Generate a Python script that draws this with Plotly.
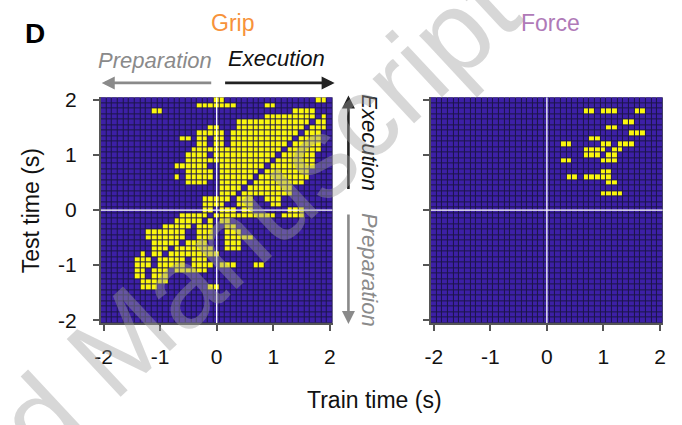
import numpy as np
import plotly.graph_objects as go

# ---------------- data ----------------
# time bins (s) for train (x) and test (y) axes
TIMES = [round(-2.0 + 0.1 * k, 1) for k in range(41)]
TEST_TIMES_TOP_DOWN = [round(2.0 - 0.1 * k, 1) for k in range(41)]

# significant cells per test-time row (top row = +2.0 s), as inclusive ranges of train-time bin index
GRIP_ROWS = [
    [(20, 21), (38, 39)],
    [(17, 23), (29, 30)],
    [(9, 10), (34, 37)],
    [(29, 37), (39, 39)],
    [(24, 36), (38, 39)],
    [(19, 20), (24, 35), (37, 39)],
    [(17, 21), (23, 34), (36, 38)],
    [(14, 15), (17, 18), (20, 21), (23, 33), (35, 38)],
    [(17, 18), (20, 21), (23, 32), (34, 38)],
    [(16, 31), (33, 38)],
    [(15, 18), (20, 30), (32, 37)],
    [(15, 29), (31, 37)],
    [(13, 18), (21, 28), (30, 37)],
    [(15, 19), (21, 27), (29, 36)],
    [(13, 13), (15, 19), (21, 26), (28, 36)],
    [(15, 18), (21, 25), (27, 35)],
    [(21, 24), (26, 33)],
    [(21, 23), (25, 33)],
    [(18, 22), (24, 26), (29, 31)],
    [(18, 21), (24, 26), (30, 31)],
    [(18, 19), (21, 23), (25, 26), (33, 35)],
    [(14, 18), (20, 30), (32, 35)],
    [(13, 17), (19, 19), (21, 22)],
    [(11, 15), (17, 19), (22, 23)],
    [(8, 14), (17, 19), (22, 24)],
    [(8, 14), (17, 19), (22, 26)],
    [(9, 13), (15, 18), (22, 24)],
    [(9, 11), (13, 19), (22, 24)],
    [(7, 7), (9, 10), (12, 20)],
    [(6, 8), (10, 14), (16, 18)],
    [(6, 8), (10, 14), (16, 19), (21, 23), (27, 28)],
    [(6, 7), (9, 11), (13, 18)],
    [(6, 7), (9, 11)],
    [(7, 11)],
    [(7, 9), (19, 20)],
    [], [], [], [], [], [],
]

FORCE_ROWS = [
    [], [],
    [(27, 28), (30, 32), (36, 37)],
    [],
    [(34, 35)],
    [(31, 32)],
    [(35, 37)],
    [(28, 29)],
    [(23, 24), (30, 31), (33, 35)],
    [(27, 30), (32, 33)],
    [(27, 29), (31, 32)],
    [(23, 24), (30, 32)],
    [],
    [(30, 31)],
    [(24, 25), (27, 31)],
    [(31, 32)],
    [],
    [(30, 33)],
] + [[] for _ in range(23)]

TICK_VALUES = [-2, -1, 0, 1, 2]
TICK_LABELS = ["-2", "-1", "0", "1", "2"]


def rows_to_matrix(rows):
    z = []
    for ranges in rows:
        r = [0] * len(TIMES)
        for a, b in ranges:
            for k in range(a, b + 1):
                r[k] = 1
        z.append(r)
    return z


# ---------------- style ----------------
W, H = 682, 425
BLUE = "#3d20a6"
YELLOW = "#fbf70f"
GRIDC = "#1c1548"
FONT = "Liberation Sans, Arial, sans-serif"


def px(x):
    return x / W


def py(y):
    return 1 - y / H


cs = [[0, BLUE], [0.5, BLUE], [0.5, YELLOW], [1, YELLOW]]

fig = go.Figure()
for name, rows, xa, ya in [("Grip", GRIP_ROWS, "x", "y"), ("Force", FORCE_ROWS, "x2", "y2")]:
    fig.add_trace(go.Heatmap(
        z=rows_to_matrix(rows), x=TIMES, y=TEST_TIMES_TOP_DOWN,
        colorscale=cs, zmin=0, zmax=1, showscale=False,
        xgap=1, ygap=1, xaxis=xa, yaxis=ya, hoverinfo="skip",
    ))

axis_common = dict(
    range=[-2.05, 2.05], tickvals=TICK_VALUES, ticktext=TICK_LABELS,
    ticks="outside", ticklen=6, tickwidth=1.5, tickcolor="#555",
    showgrid=False, zeroline=False, showline=True, linecolor="#555", linewidth=1.5,
    tickfont=dict(size=21, color="#111", family=FONT), fixedrange=True,
)

top, bottom = 92, 327
fig.update_layout(
    width=W, height=H, margin=dict(l=0, r=0, t=0, b=0),
    paper_bgcolor="white", plot_bgcolor=GRIDC,
    font=dict(family=FONT),
    showlegend=False,
    xaxis=dict(domain=[px(96), px(331)], anchor="y", ticklabelstandoff=8, **axis_common),
    yaxis=dict(domain=[py(bottom), py(top)], anchor="x", ticklabelstandoff=12, **axis_common),
    xaxis2=dict(domain=[px(430.6), px(665.6)], anchor="y2", ticklabelstandoff=8, **axis_common),
    yaxis2=dict(domain=[py(bottom), py(top)], anchor="x2", showticklabels=False,
                **{k: v for k, v in axis_common.items() if k != "tickfont"}),
)

# white zero lines
for xr, yr in [("x", "y"), ("x2", "y2")]:
    fig.add_shape(type="line", xref=xr, yref=yr, x0=0, x1=0, y0=-2.05, y1=2.05,
                  line=dict(color="white", width=1.3))
    fig.add_shape(type="line", xref=xr, yref=yr, x0=-2.05, x1=2.05, y0=0, y1=0,
                  line=dict(color="white", width=1.3))

ann = []


def text(x, y, s, size, color, angle=0, bold=False, italic=False):
    if italic:
        s = "<i>" + s + "</i>"
    if bold:
        s = "<b>" + s + "</b>"
    ann.append(dict(x=px(x), y=py(y), xref="paper", yref="paper", text=s, showarrow=False,
                    textangle=angle, font=dict(size=size, color=color, family=FONT),
                    xanchor="center", yanchor="middle"))


def arrow(x0, y0, x1, y1, color):
    ann.append(dict(x=px(x1), y=py(y1), ax=x0 - x1, ay=y0 - y1, xref="paper", yref="paper",
                    axref="pixel", ayref="pixel", text="", showarrow=True,
                    arrowhead=2, arrowsize=1.0, arrowwidth=2.6, arrowcolor=color))


text(29, 26, "D", 28, "#000", bold=True)
text(230, 15, "Grip", 23, "#f7923a")
text(552, 15, "Force", 23, "#b07ab8")
text(151, 54, "Preparation", 22, "#8a8a8a", italic=True)
text(274, 52, "Execution", 22, "#111", italic=True)
arrow(208, 77, 97, 77, "#8a8a8a")
arrow(222, 77, 333, 77, "#222")
arrow(347, 185, 347, 90, "#222")
arrow(347, 217, 347, 328, "#8a8a8a")
text(368, 139, "Execution", 22, "#111", angle=90, italic=True)
text(369, 272, "Preparation", 22, "#8a8a8a", angle=90, italic=True)
text(25, 210, "Test time (s)", 23, "#111", angle=-90)
text(373, 407, "Train time (s)", 23, "#111")

# watermark
ann.append(dict(x=px(100), y=py(362), xref="paper", yref="paper", text="Accepted Manuscript",
                showarrow=False, textangle=-43,
                font=dict(size=115, color="rgba(160,160,160,0.42)", family=FONT),
                xanchor="center", yanchor="middle"))

fig.update_layout(annotations=ann)
fig.write_html("out.html")
